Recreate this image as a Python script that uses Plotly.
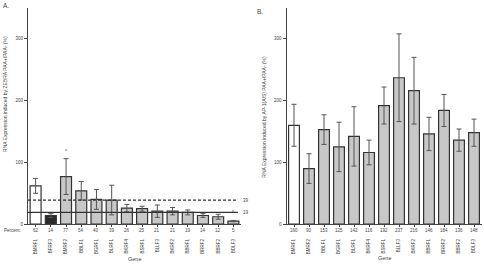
import plotly.graph_objects as go

W, H = 484, 267

genes_a = ["BMRF1", "BFRF3", "BMRF2", "BBLF1", "BGRF1", "BLRF1", "BKRF4", "BSRF1",
           "BLLF3", "BKRF2", "BBRF1", "BRRF2", "BBRF2", "BDLF3"]
vals_a = [62, 14, 77, 54, 40, 39, 26, 25, 21, 21, 19, 14, 12, 5]
err_a = [12, 3, 29, 15, 16, 24, 6, 4, 10, 6, 4, 3, 4, 1]
star_a = ["", "", "*", "", "", "", "", "", "", "", "", "", "", "*"]
pct_a = ["62", "14", "77", "54", "40", "39", "26", "25", "21", "21", "19", "14", "12", "5"]
ref_lines = [39, 19]

genes_b = ["BMRF1", "BMRF2", "BBLF1", "BGRF1", "BLRF1", "BKRF4", "BSRF1", "BLLF3",
           "BKRF2", "BBRF1", "BRRF2", "BBRF2", "BDLF3"]
vals_b = [160, 90, 153, 125, 142, 116, 192, 237, 216, 146, 184, 136, 148]
err_b = [34, 24, 24, 40, 48, 20, 30, 71, 54, 27, 26, 18, 22]
pct_b = ["160", "90", "153", "125", "142", "116", "192", "237", "216", "146", "184", "136", "148"]

FONT = "Liberation Sans"
GRAY = "#c8c8c8"
EDGE = "#333333"
TXT = "#444444"

def px_x(x):
    return x / W

def px_y(y):
    return 1 - y / H

fill_a = ["white", "#2b2b2b"] + [GRAY] * (len(genes_a) - 2)
fill_b = ["white"] + [GRAY] * (len(genes_b) - 1)

fig = go.Figure()
fig.add_trace(go.Bar(
    x=list(range(len(genes_a))), y=vals_a, marker=dict(color=fill_a, line=dict(color=EDGE, width=1.2)),
    width=0.72, error_y=dict(type="data", array=err_a, color="#555555", thickness=1, width=2.5),
    xaxis="x", yaxis="y", showlegend=False))
fig.add_trace(go.Bar(
    x=list(range(len(genes_b))), y=vals_b, marker=dict(color=fill_b, line=dict(color=EDGE, width=1.2)),
    width=0.72, error_y=dict(type="data", array=err_b, color="#555555", thickness=1, width=2.5),
    xaxis="x2", yaxis="y2", showlegend=False))

ydom = [px_y(226.7), px_y(8)]
common_y = dict(range=[0, 350], tickvals=[0, 100, 200, 300], showgrid=False, zeroline=False,
                showline=True, linecolor="#444", linewidth=1, ticks="outside", ticklen=3,
                tickcolor="#444", tickfont=dict(size=4.5, family=FONT, color=TXT), domain=ydom)
common_x = dict(showgrid=False, zeroline=False, showline=True, linecolor="#444", linewidth=1,
                ticks="outside", ticklen=2, tickcolor="#444", tickangle=-90,
                tickfont=dict(size=4.5, family=FONT, color=TXT), ticklabelstandoff=10)

fig.update_layout(
    width=W, height=H, margin=dict(l=0, r=0, t=0, b=0),
    paper_bgcolor="white", plot_bgcolor="white",
    font=dict(family=FONT, color=TXT),
    xaxis=dict(domain=[px_x(28), px_x(241)], range=[-0.5, 13.5],
               tickvals=list(range(len(genes_a))), ticktext=genes_a, anchor="y", **common_x),
    yaxis=dict(anchor="x", **common_y),
    xaxis2=dict(domain=[px_x(286.5), px_x(481.5)], range=[-0.5, 12.5],
                tickvals=list(range(len(genes_b))), ticktext=genes_b, anchor="y2", **common_x),
    yaxis2=dict(anchor="x2", **common_y),
)

for v, dash in zip(ref_lines, ["3px,2px", "solid"]):
    fig.add_shape(type="line", xref="x", yref="y", x0=-0.5, x1=13.3, y0=v, y1=v,
                  line=dict(color="#333", width=1.2, dash=dash))
    fig.add_annotation(x=13.3, y=v, xref="x", yref="y", text=str(v), showarrow=False,
                       xanchor="left", yanchor="middle", xshift=3,
                       font=dict(size=4.5, family=FONT, color=TXT))

ann = []
for i, p in enumerate(pct_a):
    ann.append(dict(x=i, y=px_y(233), xref="x", yref="paper", text=p,
                    font=dict(size=4.5, family=FONT, color=TXT)))
for i, p in enumerate(pct_b):
    ann.append(dict(x=i, y=px_y(233), xref="x2", yref="paper", text=p,
                    font=dict(size=4.5, family=FONT, color=TXT)))
for i, s in enumerate(star_a):
    if s:
        ann.append(dict(x=i, y=vals_a[i] + err_a[i], xref="x", yref="y", text=s,
                        yanchor="bottom", yshift=3, font=dict(size=5, family=FONT, color=TXT)))
ann += [
    dict(x=px_x(23), y=px_y(233), xref="paper", yref="paper", text="Percent:", xanchor="right",
         font=dict(size=4.5, family=FONT, color=TXT)),
    dict(x=px_x(134), y=px_y(262), xref="paper", yref="paper", text="Gene",
         font=dict(size=5.5, family=FONT, color=TXT)),
    dict(x=px_x(384), y=px_y(261), xref="paper", yref="paper", text="Gene",
         font=dict(size=5.5, family=FONT, color=TXT)),
    dict(x=px_x(1), y=px_y(6), xref="paper", yref="paper", text="A.", xanchor="left",
         font=dict(size=6.5, family=FONT, color=TXT)),
    dict(x=px_x(255), y=px_y(12), xref="paper", yref="paper", text="B.", xanchor="left",
         font=dict(size=6.5, family=FONT, color=TXT)),
    dict(x=px_x(5), y=px_y(95), xref="paper", yref="paper",
         text="RNA Expression induced by ZEBRA PAA+/PAA- (%)", textangle=-90,
         font=dict(size=5, family=FONT, color=TXT)),
    dict(x=px_x(264), y=px_y(118), xref="paper", yref="paper",
         text="RNA Expression induced by AP-1(A/S) PAA+/PAA- (%)", textangle=-90,
         font=dict(size=5, family=FONT, color=TXT)),
]
for a in ann:
    a.setdefault("xanchor", "center")
    a.setdefault("yanchor", "middle")
    a["showarrow"] = False
    fig.add_annotation(**a)

fig.write_html("out.html")
